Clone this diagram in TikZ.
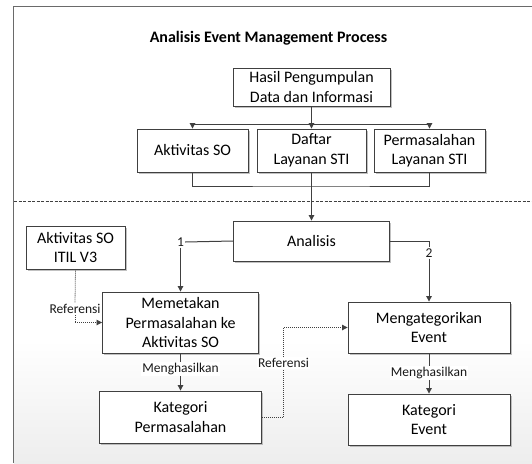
\documentclass[tikz,border=0pt]{standalone}
\usepackage{fontspec}
\setmainfont{Carlito}
\usetikzlibrary{arrows.meta,shadows}
\definecolor{ln}{HTML}{404040}
\definecolor{fr}{HTML}{6A6A6A}
\begin{document}
\begin{tikzpicture}[x=1pt,y=-1pt,
  box/.style={draw=ln, fill=white, line width=0.9pt, align=center,
    font=\fontsize{16}{19.5}\selectfont, inner sep=2pt,
    drop shadow={shadow xshift=1.6pt, shadow yshift=-1.6pt, fill=black!40, opacity=0.6}},
  lbl/.style={font=\fontsize{13.5}{16}\selectfont, fill=white, inner sep=1pt, text=black!90},
  conn/.style={draw=ln, line width=1pt},
  arr/.style={conn, -{Triangle[length=5.5pt,width=5.5pt]}},
  dotconn/.style={draw=ln, line width=0.8pt, dash pattern=on 1pt off 1pt},
  dotarr/.style={dotconn, -{Triangle[length=5.5pt,width=5.5pt]}}
]
\useasboundingbox (0,0) rectangle (532,463);
\fill[white] (0,0) rectangle (532,463);
\shade[top color=white, bottom color=black!7] (14,340) rectangle (532,463);
\draw[fr, line width=1.5pt] (13.5,463) -- (13.5,6.5) -- (532,6.5);
\draw[ln, line width=0.8pt, dash pattern=on 3pt off 1.5pt] (14,201) -- (532,201);

\node[font=\fontsize{16}{19}\selectfont\bfseries] (title) at (268.5,38) {Analisis Event Management Process};

\node[box, minimum width=157pt, minimum height=38pt] (hasil) at (311.5,87) {Hasil Pengumpulan\\Data dan Informasi};
\node[box, minimum width=111pt, minimum height=43pt] (akt) at (192.5,150.5) {Aktivitas SO};
\node[box, minimum width=109pt, minimum height=43pt] (daftar) at (311.5,150.5) {Daftar\\Layanan STI};
\node[box, minimum width=111pt, minimum height=43pt] (perm) at (429.5,150.5) {Permasalahan\\Layanan STI};

\node[box, minimum width=156pt, minimum height=40pt] (anal) at (311.5,241) {Analisis};
\node[box, minimum width=99pt, minimum height=43pt] (itil) at (75.5,247.5) {Aktivitas SO\\ITIL V3};
\node[box, minimum width=156pt, minimum height=61pt] (mem) at (180.5,322.5) {Memetakan\\Permasalahan ke\\Aktivitas SO};
\node[box, minimum width=162pt, minimum height=52pt] (katp) at (180.5,417) {Kategori\\Permasalahan};
\node[box, minimum width=162pt, minimum height=51pt] (meng) at (429,327.5) {Mengategorikan\\Event};
\node[box, minimum width=162pt, minimum height=51pt] (kate) at (429,419.5) {Kategori\\Event};

\node[lbl] (n1) at (180.5,242) {1};
\node[lbl] (n2) at (429,253) {2};
\node[lbl] (ref1) at (75,309) {Referensi};
\node[lbl] (ref2) at (283.5,363) {Referensi};
\node[lbl] (h1) at (180.5,369) {Menghasilkan};
\node[lbl] (h2) at (429,373) {Menghasilkan};

\coordinate (br) at (311.5,124);
\coordinate (mg) at (311.5,186);

\draw[arr] (hasil.south) -- (daftar.north);
\draw[arr] (br) -| (akt.north);
\draw[arr] (br) -| (perm.north);
\draw[conn] (akt.south) |- (mg) -| (perm.south);
\draw[arr] (daftar.south) -- (anal.north);

\draw[conn] (anal.west) -- (n1.east);
\draw[arr] (n1.south) -- (mem.north);
\draw[conn] (anal.east) -| (n2.north);
\draw[arr] (n2.south) -- (meng.north);

\draw[dotconn] (itil.south) -- (ref1.north);
\draw[dotarr] (ref1.south) |- (mem.west);
\draw[dotconn] (katp.east) -| (ref2.south);
\draw[dotarr] (ref2.north) |- (meng.west);

\draw[conn] (mem.south) -- (h1.north);
\draw[arr] (h1.south) -- (katp.north);
\draw[conn] (meng.south) -- (h2.north);
\draw[arr] (h2.south) -- (kate.north);
\end{tikzpicture}
\end{document}
